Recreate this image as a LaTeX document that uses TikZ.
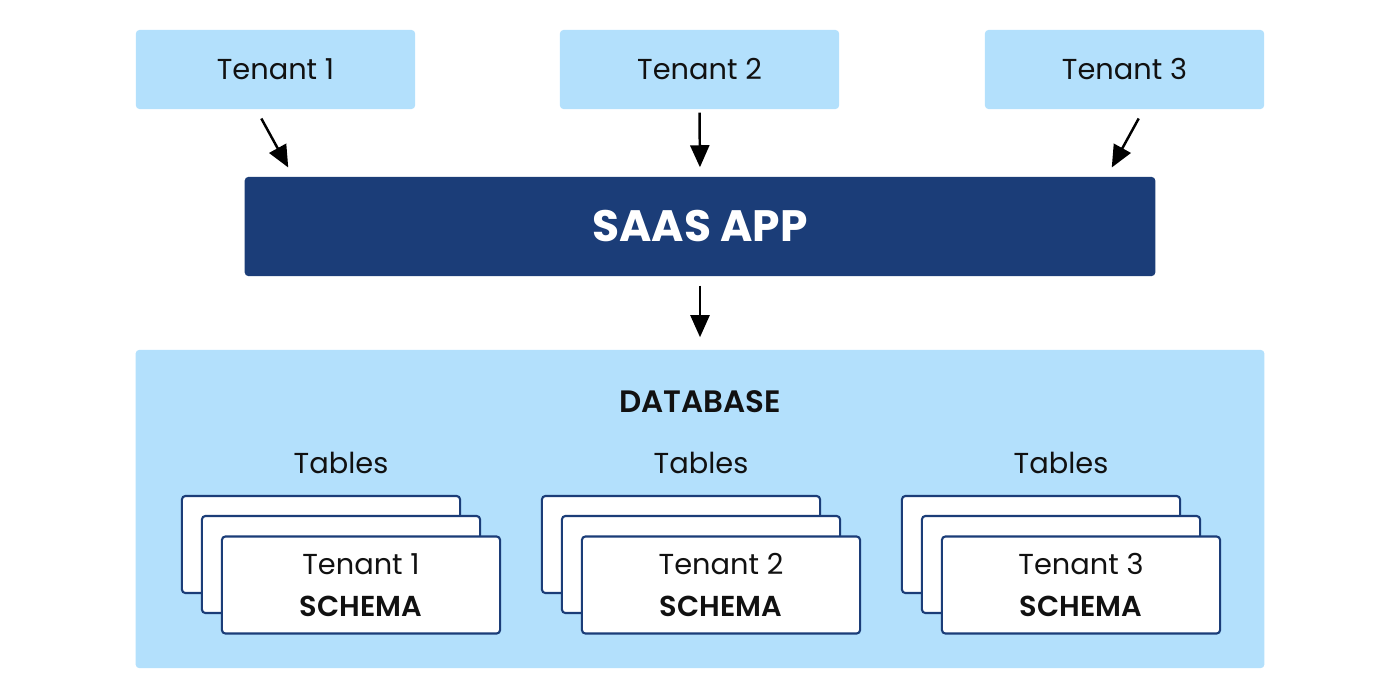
\documentclass[tikz,border=0pt]{standalone}
\usepackage{fontspec}
\setmainfont{Poppins}
\newfontfamily\semibold{Poppins SemiBold}
\usepackage{xcolor}
\usepackage{tikz}
\usetikzlibrary{positioning,arrows.meta}

\definecolor{tenantblue}{RGB}{179,224,252}
\definecolor{appnavy}{RGB}{27,61,120}
\definecolor{inkblack}{RGB}{17,17,17}

\begin{document}
\begin{tikzpicture}[x=0.01cm, y=-0.01cm,
  every node/.style={text=inkblack},
  tenant/.style={fill=tenantblue, rounded corners=1pt, minimum width=2.79cm, minimum height=0.79cm, font=\fontsize{8.2}{10}\selectfont},
  app/.style={fill=appnavy, rounded corners=1pt, minimum width=9.1cm, minimum height=0.99cm, text=white, font=\fontsize{12.5}{15}\selectfont\bfseries},
  db/.style={fill=tenantblue, rounded corners=1pt, minimum width=11.28cm, minimum height=3.18cm},
  card/.style={draw=appnavy, line width=0.6pt, fill=white, rounded corners=1pt, minimum width=2.78cm, minimum height=0.97cm, align=center, font=\fontsize{8.2}{10}\selectfont},
  lbl/.style={font=\fontsize{8.2}{10}\selectfont},
  arr/.style={-{Triangle[length=2.2mm, width=1.9mm]}, line width=0.7pt, black}]
\useasboundingbox (0,0) rectangle (1400,700);
% tenants and app
\node[tenant] (t1) at (275.5,69.5) {Tenant 1};
\node[tenant] (t2) at (699.5,69.5) {Tenant 2};
\node[tenant] (t3) at (1124.5,69.5) {Tenant 3};
\node[app] (saas) at (700,226.5) {SAAS APP};
% database
\node[db] (db) at (700,509) {};
\node[font=\fontsize{8.8}{10}\selectfont\semibold] (dbl) at (700,402) {DATABASE};
\foreach \i in {1,2,3} {
  \node[lbl] (tab\i) at ({341+360*(\i-1)},463) {Tables};
  \node[card] (back\i) at ({321+360*(\i-1)},544.5) {};
  \node[card] (mid\i) at ({341+360*(\i-1)},564.5) {};
  \node[card] (schema\i) at ({361+360*(\i-1)},585) {Tenant \i\\[2pt]{\semibold SCHEMA}};
}
% arrows
\draw[arr, shorten <=1mm, shorten >=1mm] ([xshift=-1.9mm]t1.south) -- ([xshift=4.9mm]saas.north west);
\draw[arr, shorten <=0.3mm, shorten >=0.9mm] (t2.south) -- (saas.north);
\draw[arr, shorten <=1mm, shorten >=1mm] ([xshift=1.9mm]t3.south) -- ([xshift=-4.9mm]saas.north east);
\draw[arr, shorten <=0.9mm, shorten >=1.2mm] (saas.south) -- (db.north);
\end{tikzpicture}
\end{document}
